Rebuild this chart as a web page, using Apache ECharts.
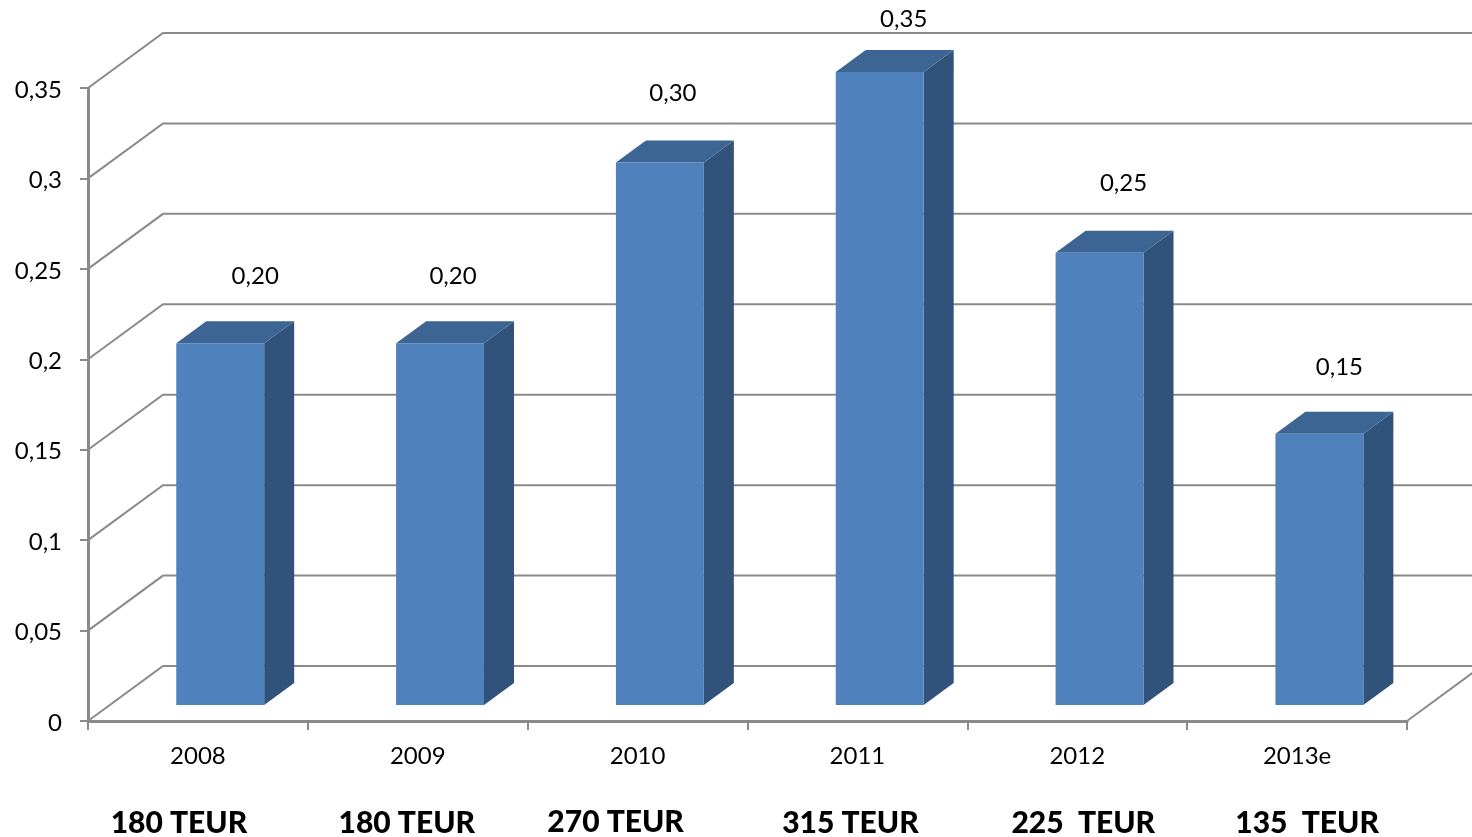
<!DOCTYPE html>
<html>
<head>
<meta charset="utf-8">
<title>Dividende 2008-2013e</title>
<script src="https://cdn.jsdelivr.net/npm/echarts@6/dist/echarts.min.js"></script>
<style>
  html, body { margin: 0; padding: 0; background: #fff; overflow: hidden; }
  #chart { width: 1472px; height: 837px; }
</style>
</head>
<body>
<div id="chart"></div>
<script>
// Values per year
const years = ['2008', '2009', '2010', '2011', '2012', '2013e'];
const dividends = [0.20, 0.20, 0.30, 0.35, 0.25, 0.15];
const dividendLabels = ['0,20', '0,20', '0,30', '0,35', '0,25', '0,15'];
const totals = ['180 TEUR', '180 TEUR', '270 TEUR', '315 TEUR', '225\u00A0 TEUR', '135\u00A0 TEUR'];
const gridValues = [0, 0.05, 0.1, 0.15, 0.2, 0.25, 0.3, 0.35];
const tickText = { 0: '0', 0.05: '0,05', 0.1: '0,1', 0.15: '0,15', 0.2: '0,2', 0.25: '0,25', 0.3: '0,3', 0.35: '0,35' };

// Hand placement of the free-floating labels, relative to each band
const valueLabelDx = [35, 13, 13, 24, 24, 20];
const valueLabelDy = [-67, -67, -69, -53, -70, -66];
const totalLabelDx = [-19, -11, -22, -7, 6, 10];
const totalLabelDy = [102, 102, 101, 102, 102, 102];

// Oblique projection of the pseudo-3D box
const wallDx = 75, wallDy = -55;     // floor depth, front edge to back wall
const barFrontDx = 22.3, barFrontDy = -16; // bar front face inside the floor
const barDepthDx = 30, barDepthDy = -22; // bar depth
const gridColor = '#8a8a8a';
const labelFont = 'Lato, Carlito, "Open Sans", sans-serif';

function poly(points, fill) {
  return { type: 'polygon', shape: { points }, style: { fill } };
}

function renderWalls(params, api) {
  const base = api.coord([0, api.value(1)]);
  const rect = params.coordSys;
  const x0 = rect.x, x1 = rect.x + rect.width, y = base[1];
  const children = [{
    type: 'polyline',
    shape: { points: [[x0, y], [x0 + wallDx, y + wallDy], [x1 + wallDx, y + wallDy]] },
    style: { stroke: gridColor, lineWidth: 2, fill: null }
  }];
  if (api.value(1) === 0) {
    children.push({
      type: 'line',
      shape: { x1, y1: y, x2: x1 + wallDx, y2: y + wallDy },
      style: { stroke: gridColor, lineWidth: 2 }
    });
  }
  return { type: 'group', children };
}

function renderBar(params, api) {
  const top = api.coord([api.value(0), api.value(1)]);
  const foot = api.coord([api.value(0), 0]);
  const w = api.size([1, 0])[0] * 0.4;
  const l = top[0] + barFrontDx - w / 2, r = l + w;
  const t = top[1] + barFrontDy, b = foot[1] + barFrontDy;
  const dx = barDepthDx, dy = barDepthDy;
  return {
    type: 'group',
    children: [
      poly([[r, t], [r + dx, t + dy], [r + dx, b + dy], [r, b]], '#31527a'),
      poly([[l, t], [r, t], [r + dx, t + dy], [l + dx, t + dy]], '#3d6594'),
      poly([[l, t], [r, t], [r, b], [l, b]], '#4f81bd')
    ]
  };
}

function renderValueLabel(params, api) {
  const i = params.dataIndex;
  const top = api.coord([api.value(0), api.value(1)]);
  return {
    type: 'text',
    x: top[0] + barFrontDx + valueLabelDx[i],
    y: top[1] + barFrontDy + valueLabelDy[i],
    style: {
      text: dividendLabels[i], font: '24px ' + labelFont, fill: '#000',
      align: 'center', verticalAlign: 'middle'
    }
  };
}

function renderTotal(params, api) {
  const i = params.dataIndex;
  const foot = api.coord([api.value(0), 0]);
  return {
    type: 'text',
    x: foot[0] + totalLabelDx[i],
    y: foot[1] + totalLabelDy[i],
    style: {
      text: totals[i], font: '900 30px ' + labelFont, fill: '#000',
      align: 'center', verticalAlign: 'middle'
    }
  };
}

const barData = years.map((y, i) => [i, dividends[i]]);
const chart = echarts.init(document.getElementById('chart'), null, { renderer: 'canvas' });
chart.setOption({
  animation: false,
  backgroundColor: '#fff',
  grid: { left: 88, top: 88, width: 1319, height: 633 },
  xAxis: {
    type: 'category',
    data: years,
    axisLine: { lineStyle: { color: gridColor, width: 3 } },
    axisTick: { show: true, length: 9, alignWithLabel: false, lineStyle: { color: gridColor, width: 2 } },
    axisLabel: { color: '#000', fontFamily: labelFont, fontSize: 24, margin: 23 }
  },
  yAxis: {
    type: 'value',
    min: 0, max: 0.35, interval: 0.05,
    splitLine: { show: false },
    axisLine: { show: true, lineStyle: { color: gridColor, width: 3 } },
    axisTick: { show: true, length: 8, lineStyle: { color: gridColor, width: 2 } },
    axisLabel: {
      margin: 26,
      formatter: v => '{tick|' + tickText[+v.toFixed(2)] + '}',
      rich: {
        // top padding nudges the digits down onto the tick line
        tick: { color: '#000', fontFamily: labelFont, fontSize: 24, padding: [4, 0, 0, 0] }
      }
    }
  },
  series: [
    {
      type: 'custom', z: 1, silent: true, clip: false,
      renderItem: renderWalls,
      encode: { x: 0, y: 1 },
      data: gridValues.map(v => [0, v])
    },
    {
      type: 'custom', z: 3, silent: true, clip: false,
      renderItem: renderBar,
      encode: { x: 0, y: 1 },
      data: barData
    },
    {
      type: 'custom', z: 4, silent: true, clip: false,
      renderItem: renderValueLabel,
      encode: { x: 0, y: 1 },
      data: barData
    },
    {
      type: 'custom', z: 4, silent: true, clip: false,
      renderItem: renderTotal,
      encode: { x: 0, y: 1 },
      data: barData
    }
  ]
});
</script>
</body>
</html>
